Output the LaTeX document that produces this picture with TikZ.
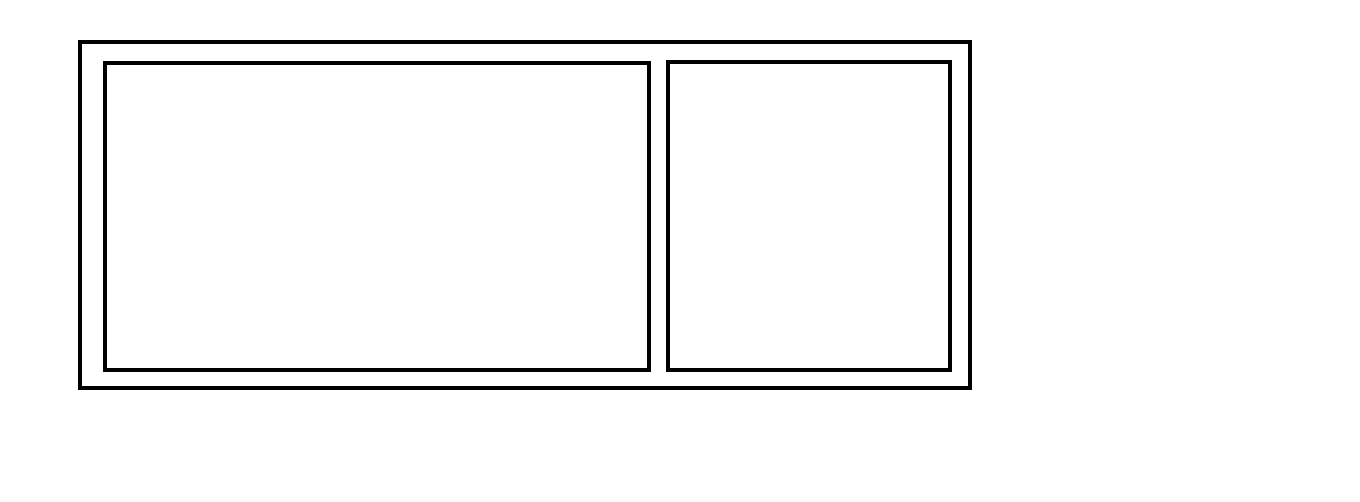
\documentclass[tikz,border=0pt]{standalone}
\usepackage{tikz}

\begin{document}
\begin{tikzpicture}[x=1pt,y=-1pt,frame/.style={draw=black,line width=4pt}]
	\useasboundingbox (0,0) rectangle (1360,502);
	\draw[frame] (80,42) rectangle (970,388);
	\draw[frame] (105,63) rectangle (649,370);
	\draw[frame] (668,62) rectangle (950,370);
\end{tikzpicture}
\end{document}
